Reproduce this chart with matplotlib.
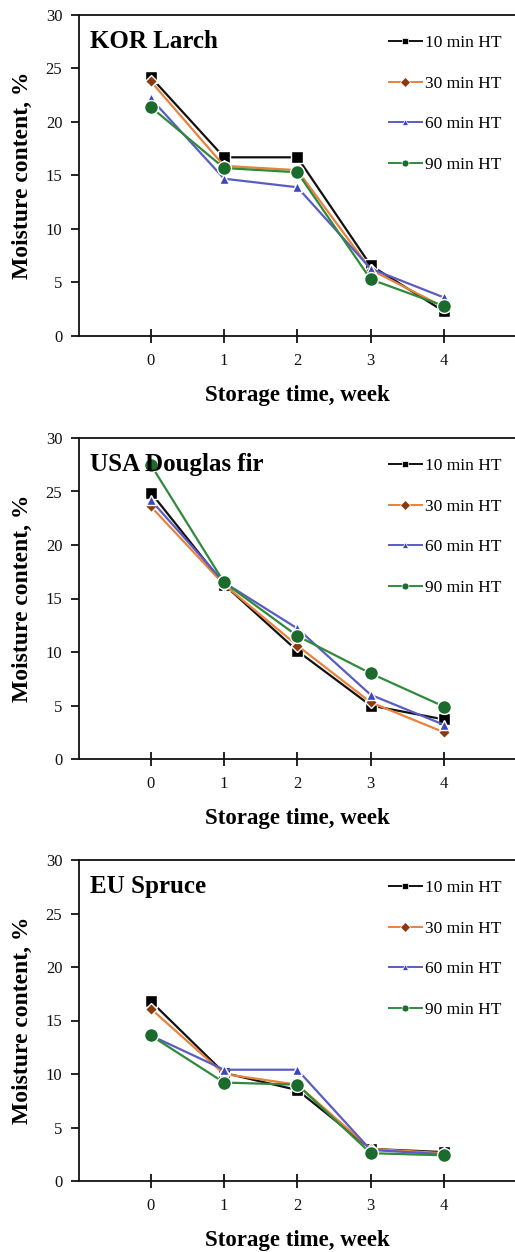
import matplotlib
matplotlib.use("Agg")
import matplotlib.pyplot as plt

weeks = [0, 1, 2, 3, 4]
series_labels = ["10 min HT", "30 min HT", "60 min HT", "90 min HT"]
panel_titles = ["KOR Larch", "USA Douglas fir", "EU Spruce"]

kor_larch = [
    [24.2, 16.7, 16.7, 6.6, 2.3],
    [23.8, 15.9, 15.5, 6.2, 2.7],
    [22.2, 14.7, 13.9, 6.3, 3.6],
    [21.4, 15.7, 15.3, 5.3, 2.8],
]
usa_douglas_fir = [
    [24.9, 16.3, 10.1, 5.0, 3.7],
    [23.6, 16.3, 10.6, 5.3, 2.5],
    [24.2, 16.5, 12.2, 6.0, 3.2],
    [27.5, 16.5, 11.5, 8.0, 4.9],
]
eu_spruce = [
    [16.8, 10.1, 8.5, 3.0, 2.7],
    [16.1, 10.0, 9.0, 3.0, 2.6],
    [13.6, 10.4, 10.4, 2.9, 2.5],
    [13.6, 9.2, 9.0, 2.6, 2.4],
]
panels = [kor_larch, usa_douglas_fir, eu_spruce]

y_ticks = [0, 5, 10, 15, 20, 25, 30]

line_colors = ["#111111", "#E8823C", "#5A5CC4", "#2F8A3C"]
marker_faces = ["#000000", "#8B3A10", "#3C46C0", "#1A6B2C"]
markers = ["s", "D", "^", "o"]
marker_sizes = [9, 6, 7, 10]

plt.rcParams["font.family"] = ["Liberation Serif", "DejaVu Serif"]

fig = plt.figure(figsize=(5.15, 12.52), dpi=100)

W, H = 515.0, 1252.0
left_px = 79
right_px = 515
axes_px = [(15, 336), (438, 759), (860, 1181)]

for idx, (data, title) in enumerate(zip(panels, panel_titles)):
    top, bot = axes_px[idx]
    ax = fig.add_axes([left_px / W, 1 - bot / H, (right_px - left_px) / W, (bot - top) / H])
    for k in range(4):
        ax.plot(weeks, data[k], color=line_colors[k], lw=1.6,
                marker=markers[k], markersize=marker_sizes[k],
                markerfacecolor=marker_faces[k], markeredgecolor="white",
                markeredgewidth=1.0, label=series_labels[k], zorder=3 + k,
                clip_on=False)
    ax.set_xlim(-0.98, 4.97)
    ax.set_ylim(0, 30)
    ax.set_xticks(weeks)
    ax.set_yticks(y_ticks)
    ax.tick_params(axis="x", direction="inout", length=10, width=1.3,
                   labelsize=12, pad=7, colors="#111111")
    ax.tick_params(axis="y", direction="out", length=6, width=1.3,
                   labelsize=12, pad=6, colors="#111111")
    for side in ["left", "bottom", "top"]:
        ax.spines[side].set_linewidth(1.3)
        ax.spines[side].set_color("#111111")
    ax.spines["right"].set_visible(False)
    ax.set_xlabel("Storage time, week", fontsize=16.5, fontweight="bold", labelpad=12)
    ax.set_ylabel("Moisture content, %", fontsize=17, fontweight="bold", labelpad=9)
    ax.text(0.025, 0.916, title, transform=ax.transAxes, fontsize=18,
            fontweight="bold", ha="left", va="center", zorder=10)
    leg = ax.legend(loc="upper left", bbox_to_anchor=(0.711, 0.937), frameon=False,
                    fontsize=12.5, labelspacing=1.4, handlelength=1.9,
                    handletextpad=0.15, borderaxespad=0.0, borderpad=0.0)
    for h in leg.legend_handles:
        h.set_markersize(5)
        h.set_markeredgewidth(0.5)
        h.set_linewidth(1.4)

fig.savefig("out.png", dpi=100)
